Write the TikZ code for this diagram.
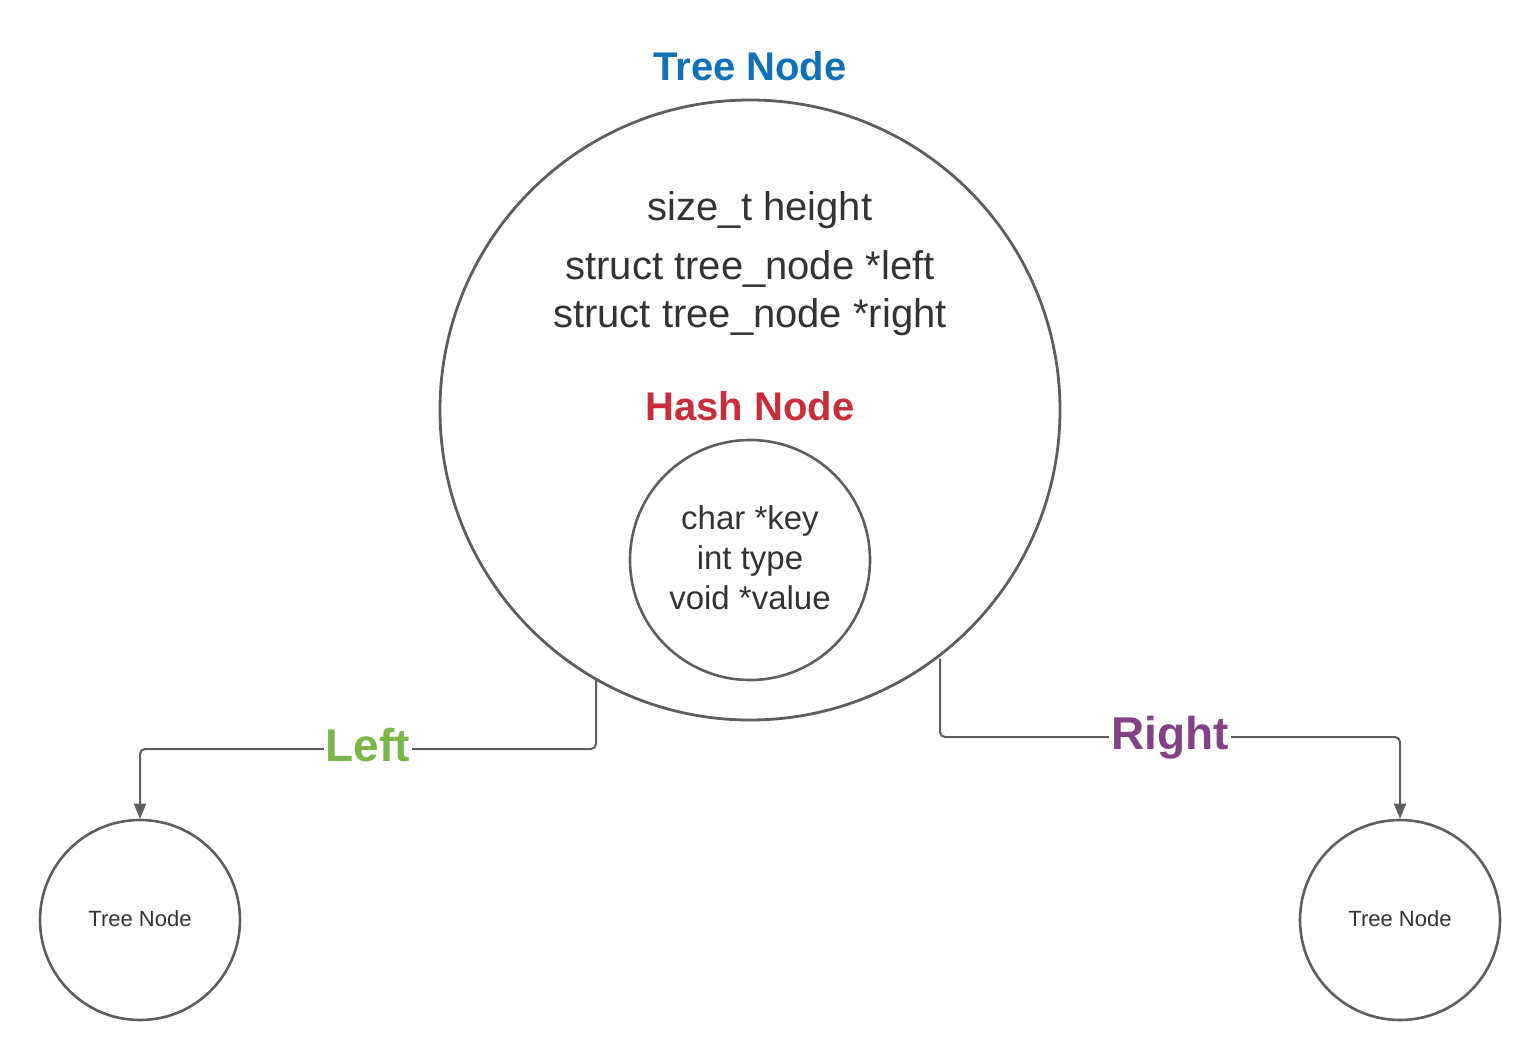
\documentclass[tikz,border=0pt]{standalone}
\usepackage{fontspec}
\setmainfont{Liberation Sans}
\usetikzlibrary{arrows.meta}
\definecolor{ln}{HTML}{5E5E5E}
\definecolor{tx}{HTML}{333333}
\definecolor{tblue}{HTML}{1071B8}
\definecolor{tred}{HTML}{C92D39}
\definecolor{tgreen}{HTML}{7AB648}
\definecolor{tpurple}{HTML}{834187}
\tikzset{
  circ/.style={circle, draw=ln, line width=2.6pt, inner sep=0pt},
  conn/.style={draw=ln, line width=2pt, rounded corners=5pt, -{Triangle[length=15pt,width=12pt]}},
  txt/.style={anchor=base, text=tx, inner sep=0pt},
  lbl/.style={anchor=base, fill=white, inner sep=2pt, font=\fontsize{46}{50}\selectfont\bfseries},
}
\begin{document}
\begin{tikzpicture}[x=1pt,y=-1pt]
\useasboundingbox (0,0) rectangle (1540,1060);
\node[circ, minimum size=620pt, line width=2.8pt] (big) at (750,410) {};
\node[circ, minimum size=240pt] (hash) at (750,560) {};
\node[circ, minimum size=200pt] (lt) at (140,920) {};
\node[circ, minimum size=200pt] (rt) at (1400,920) {};

\node[anchor=base, text=tblue, inner sep=0pt, font=\fontsize{40}{44}\selectfont\bfseries] (title) at (750,80) {Tree Node};
\node[txt, font=\fontsize{40}{44}\selectfont] (h) at (760,220) {size\_t height};
\node[txt, font=\fontsize{40}{44}\selectfont] (l) at (750,279) {struct tree\_node *left};
\node[txt, font=\fontsize{40}{44}\selectfont] (r) at (750,327) {struct tree\_node *right};
\node[anchor=base, text=tred, inner sep=0pt, font=\fontsize{40}{44}\selectfont\bfseries] (hn) at (750,420) {Hash Node};
\node[txt, font=\fontsize{33}{36}\selectfont] (k) at (750,529) {char *key};
\node[txt, font=\fontsize{33}{36}\selectfont] (ty) at (750,569) {int type};
\node[txt, font=\fontsize{33}{36}\selectfont] (v) at (750,609) {void *value};
\node[txt, font=\fontsize{22}{24}\selectfont] (ltt) at (140,926) {Tree Node};
\node[txt, font=\fontsize{22}{24}\selectfont] (rtt) at (1400,926) {Tree Node};

\draw[conn] (596,0 |- big.240.2) -- (596,749) -| (lt.north);
\draw[conn] (940,0 |- big.307.8) -- (940,737) -| (rt.north);

\node[lbl, text=tgreen] (leftlbl) at (368,761) {Left};
\node[lbl, text=tpurple] (rightlbl) at (1170,749) {Right};
\end{tikzpicture}
\end{document}
